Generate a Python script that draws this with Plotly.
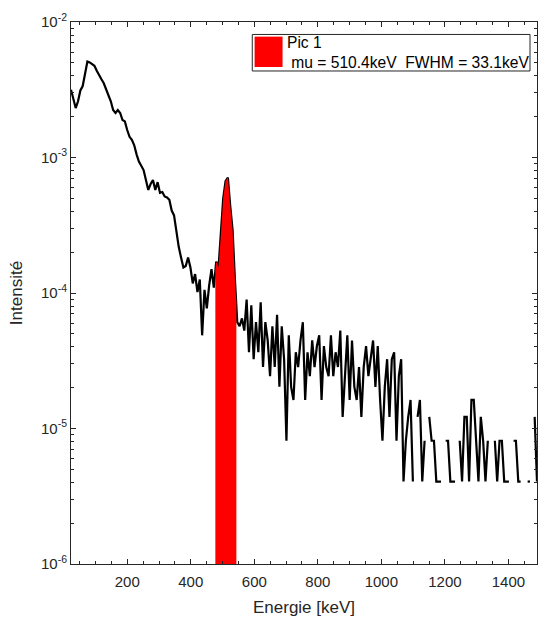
import numpy as np
import plotly.graph_objects as go

# spectrum: 200 channels, counts
e_first = 22.9      # keV, first channel
e_step = 7.372      # keV per channel
count_scale = 4.06e-6   # intensity of one count

counts = [
    780, 680, 571, 640, 770, 830, 1000, 1260, 1240, 1200,
    1170, 1075, 990, 930, 870, 790, 700, 640, 552, 525,
    552, 525, 466, 455, 393, 350, 332, 303, 260, 230,
    214, 199, 168, 142, 157, 168, 142, 162, 135, 137,
    127, 125, 120, 100, 92, 68, 54, 45, 38, 39,
    45, 38, 29, 34, 25, 31, 12, 26, 19, 28,
    37, 27, 42, 38, 66, 123, 165, 175, 108, 72,
    31, 15, 14, 16, 13, 22, 9, 20, 8, 15,
    9, 21, 7, 15, 11, 6, 14, 7, 17, 5,
    14, 8, 2, 12, 5, 4, 9, 7, 11, 15,
    4, 9, 6, 11, 7, 10, 12, 4, 10, 7,
    6, 12, 6, 9, 7, 13, 3, 6, 12, 4,
    11, 5, 4, 7, 3, 7, 10, 6, 8, 11,
    5, 10, 4, 2, 5, 8, 3, 8, 9, 2,
    6, 8, 1, 2, 3, 4, 1, 0, 3, 4,
    1, 2, 0, 3, 2, 2, 1, 1, 1, 0,
    2, 2, 1, 1, 1, 0, 2, 1, 3, 3,
    1, 4, 4, 2, 1, 3, 2, 1, 2, 0,
    0, 2, 1, 2, 2, 1, 1, 1, 0, 2,
    2, 1, 1, 0, 0, 1, 1, 0, 3, 1,
]

peak_name = 'Pic 1'
peak_mu = 510.4
peak_fwhm = 33.1

energy = e_first + e_step * np.arange(len(counts))
intens = [c * count_scale if c > 0 else None for c in counts]

# red area = mu +/- FWHM, edges interpolated on the curve
lo, hi = peak_mu - peak_fwhm, peak_mu + peak_fwhm
idx = [i for i, e in enumerate(energy) if lo <= e <= hi]
cnt = np.array(counts, dtype=float)
y_lo = float(np.interp(lo, energy, cnt)) * count_scale
y_hi = float(np.interp(hi, energy, cnt)) * count_scale
ymin = 1e-6
fill_x = [lo, lo] + [energy[i] for i in idx] + [hi, hi]
fill_y = [ymin, y_lo] + [intens[i] for i in idx] + [y_hi, ymin]

axcol = '#262626'
font = 'Liberation Sans, Arial, Helvetica, sans-serif'

fig = go.Figure()
fig.add_trace(go.Scatter(x=energy, y=intens, mode='lines',
                         line=dict(color='black', width=2.2), connectgaps=False,
                         showlegend=False))
fig.add_trace(go.Scatter(x=fill_x, y=fill_y, mode='lines', fill='toself',
                         fillcolor='#ff0000', line=dict(width=0, color='#ff0000'),
                         showlegend=False))

decades = [-6, -5, -4, -3, -2]
minor_y = [k * 10.0 ** d for d in decades[:-1] for k in range(2, 10)]

fig.update_xaxes(
    range=[e_first, energy[-1]], tick0=0, dtick=200, automargin=False,
    ticks='inside', ticklen=5, tickcolor=axcol, showline=True, linecolor=axcol,
    linewidth=1, mirror='ticks', showgrid=False, zeroline=False,
    tickfont=dict(size=15, color=axcol, family=font), ticklabelstandoff=4,
    minor=dict(dtick=50, tick0=0, ticks='inside', ticklen=3, tickcolor=axcol),
    title=dict(text='Energie [keV]', font=dict(size=17, color=axcol, family=font), standoff=12),
)
fig.update_yaxes(
    type='log', range=[-6, -2], automargin=False,
    tickvals=[10.0 ** d for d in decades],
    ticktext=['10<sup>%d</sup>' % d for d in decades],
    ticks='inside', ticklen=5, tickcolor=axcol, showline=True, linecolor=axcol,
    linewidth=1, mirror='ticks', showgrid=False, zeroline=False,
    tickfont=dict(size=15, color=axcol, family=font),
    minor=dict(tickvals=minor_y, ticks='inside', ticklen=3, tickcolor=axcol),
    title=dict(text='Intensité', font=dict(size=17, color=axcol, family=font), standoff=14),
)

# legend box drawn by hand (big colour patch like matlab)
fig.add_shape(type='rect', xref='paper', yref='paper', x0=0.389, x1=0.985, y0=0.9096, y1=0.977,
              line=dict(color=axcol, width=1), fillcolor='white')
fig.add_shape(type='rect', xref='paper', yref='paper', x0=0.394, x1=0.454, y0=0.917, y1=0.973,
              line=dict(width=0), fillcolor='#ff0000')
fig.add_annotation(xref='paper', yref='paper', x=0.459, y=0.943, xanchor='left', yanchor='middle',
                   align='left', showarrow=False,
                   text=f'{peak_name}<br>\u00a0mu = {peak_mu}keV\u00a0\u00a0FWHM = {peak_fwhm}keV',
                   font=dict(size=15.6, color='black', family=font))

fig.update_layout(
    width=539, height=617,
    margin=dict(l=71, r=2, t=22, b=53),
    plot_bgcolor='white', paper_bgcolor='white',
    showlegend=False,
)

# page body has an 8px default margin; drop it so the figure sits at 0,0
fig.write_html('out.html', config={'displayModeBar': False},
               post_script="document.body.style.margin='0';document.body.style.overflow='hidden';")
